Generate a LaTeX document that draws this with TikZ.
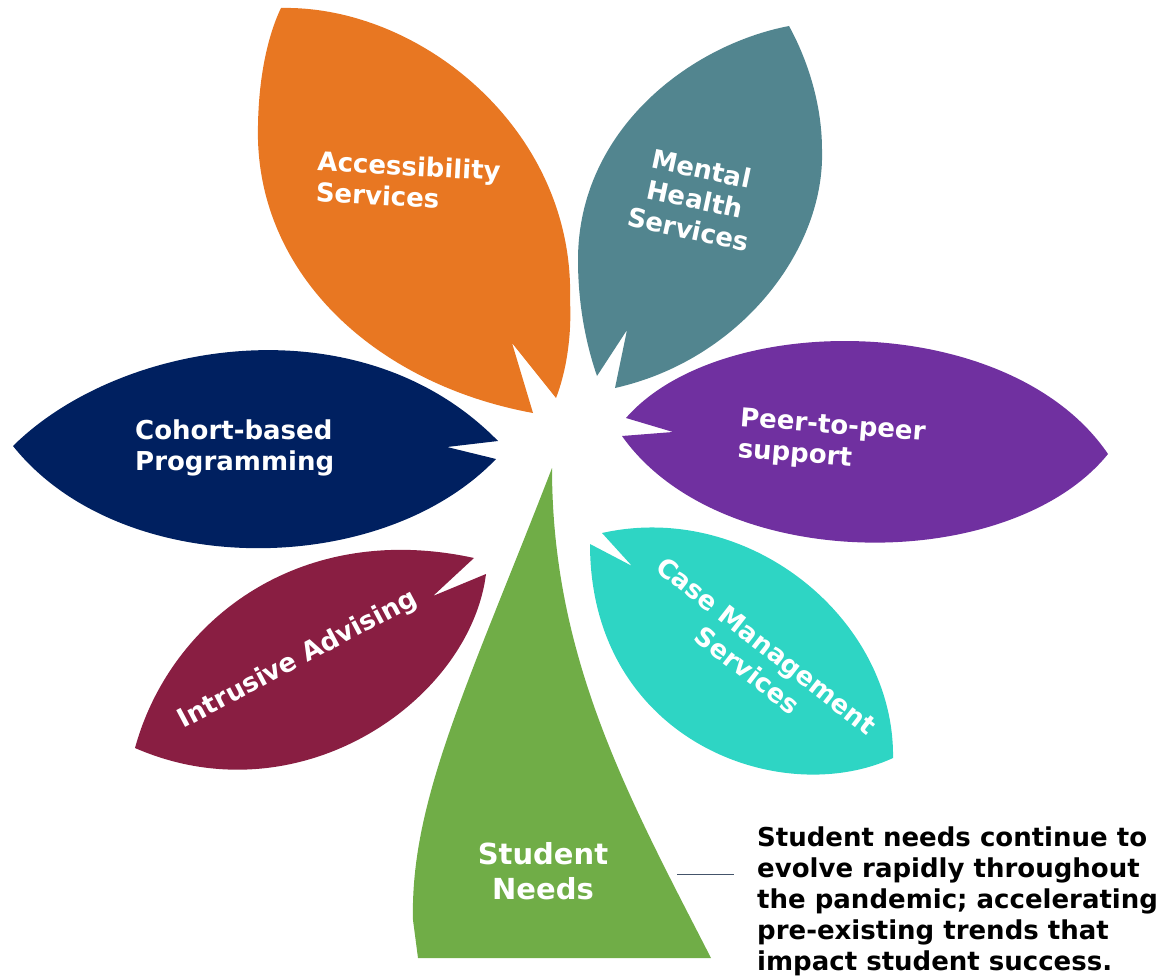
\documentclass[tikz,border=0pt]{standalone}
\usepackage{fontspec}
\setmainfont{DejaVu Sans}
\usetikzlibrary{positioning}
\definecolor{accorange}{HTML}{E87722}
\definecolor{mhteal}{HTML}{52858F}
\definecolor{peerpurple}{HTML}{7030A0}
\definecolor{cohortnavy}{HTML}{002060}
\definecolor{advmaroon}{HTML}{891E42}
\definecolor{casecyan}{HTML}{2ED5C4}
\definecolor{needgreen}{HTML}{70AD47}
\definecolor{noteline}{HTML}{44546A}

\begin{document}
\begin{tikzpicture}[x=1pt, y=-1pt,
  petaltext/.style={text=white, font=\bfseries\fontsize{26}{31}\selectfont, inner sep=0pt},
  notetext/.style={text=black, font=\bfseries\fontsize{26}{31}\selectfont, inner sep=0pt, align=left}]

\useasboundingbox (0,0) rectangle (1161,976);

% petals
\fill[accorange] (281,8) .. controls (420,5) and (575,130) .. (570,300) .. controls (572,340) and (565,375) .. (556,398) -- (512,343) -- (533,413) .. controls (380,385) and (262,280) .. (258,140) .. controls (257,80) and (268,35) .. (281,8) -- cycle;

\fill[mhteal] (789,26) .. controls (690,45) and (578,130) .. (578,260) .. controls (578,310) and (588,350) .. (597,376) -- (627,330) -- (615,388) .. controls (740,360) and (825,250) .. (822,150) .. controls (822,100) and (805,55) .. (789,26) -- cycle;

\fill[peerpurple] (626,418) .. controls (720,310) and (1010,310) .. (1108,454) .. controls (1010,575) and (720,575) .. (622,436) -- (673,432) -- cycle;

\fill[cohortnavy] (13,446) .. controls (120,340) and (360,300) .. (498,441) -- (447,447) -- (496,459) .. controls (380,580) and (120,580) .. (13,446) -- cycle;

\fill[advmaroon] (135,748) .. controls (170,620) and (300,520) .. (474,558) -- (433,596) -- (486,574) .. controls (470,700) and (300,820) .. (135,748) -- cycle;

\fill[casecyan] (602,533) .. controls (750,500) and (895,620) .. (893,758) .. controls (780,810) and (590,740) .. (590,544) -- (632,566) -- cycle;

\fill[needgreen] (552,468) .. controls (470,680) and (410,800) .. (413,920) -- (418,958) -- (711,958) .. controls (630,800) and (552,660) .. (552,468) -- cycle;

% labels
\node[petaltext, align=left, rotate=-3, anchor=north west] (access) at (318,151) {Accessibility\\Services};
\node[petaltext, align=center, rotate=-12] (mental) at (695,199) {Mental\\Health\\Services};
\node[petaltext, align=left, rotate=-4.5, anchor=north west] (peer) at (741,407) {Peer-to-peer\\support};
\node[petaltext, align=left, anchor=north west] (cohort) at (135,420) {Cohort-based\\Programming};
\node[petaltext, rotate=28] (advising) at (298,660) {Intrusive Advising};
\node[petaltext, align=center, rotate=-38] (casemgmt) at (757,658) {Case Management\\Services};
\node[petaltext, align=center, font=\bfseries\fontsize{29}{35}\selectfont, anchor=north] (needs) at (543,842) {Student\\Needs};

\node[notetext, anchor=base west] (note) at (757,970) {Student needs continue to\\evolve rapidly throughout\\the pandemic; accelerating\\pre-existing trends that\\impact student success.};

\coordinate (tickL) at (677,874);
\coordinate (tickR) at (734,874);
\draw[noteline, line width=1pt] (tickL) -- (tickR);

\end{tikzpicture}
\end{document}
